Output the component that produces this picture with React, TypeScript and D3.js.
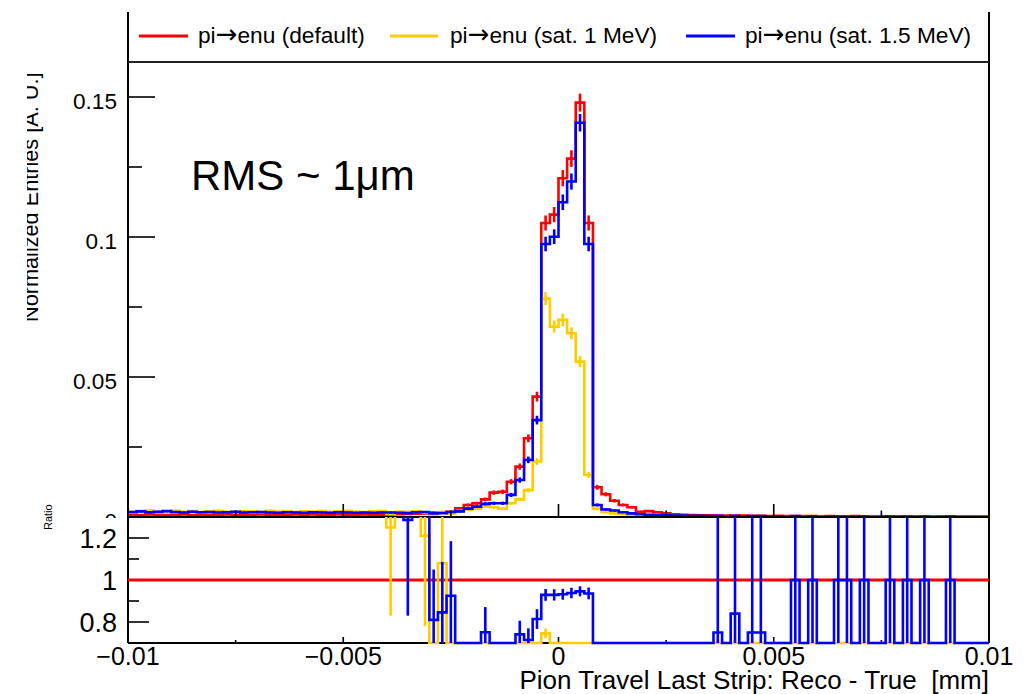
import React from "react";
import * as d3 from "d3";

// ---------------- data ----------------
const X_MIN = -0.01;
const X_MAX = 0.01;
const N_BINS = 100;
const N_ENTRIES = 14450; // effective entries used for the Poisson error bars
const Y_MAX = 0.18;

const seriesPrefix = "pi";
const seriesArrow = "\u2192";
const seriesSuffix = ["enu (default)", "enu (sat. 1 MeV)", "enu (sat. 1.5 MeV)"];
const seriesColors = ["#ff0000", "#ffcc00", "#0000ff"];

const redDefault = [
  0.0008, 0.0007, 0.0009, 0.0008, 0.0007, 0.0008, 0.0009, 0.0007, 0.0008, 0.0008,
  0.0007, 0.0009, 0.0008, 0.0008, 0.0007, 0.0009, 0.0008, 0.0007, 0.0008, 0.0009,
  0.0008, 0.0009, 0.0007, 0.0008, 0.0009, 0.0008, 0.0007, 0.0009, 0.0008, 0.0008,
  0.0009, 0.0010, 0.0011, 0.0012, 0.0013, 0.0016, 0.0017, 0.0019, 0.0031, 0.0043,
  0.0049, 0.0063, 0.0087, 0.0090, 0.0126, 0.0180, 0.0281, 0.0430, 0.1050, 0.1080,
  0.1210, 0.1280, 0.1480, 0.1050, 0.0106, 0.0081, 0.0058, 0.0043, 0.0035, 0.0019,
  0.0021, 0.0017, 0.0013, 0.0010, 0.0008, 0.0007, 0.0006, 0.0006, 0.0005, 0.0005,
  0.0004, 0.0005, 0.0004, 0.0004, 0.0003, 0.0004, 0.0003, 0.0003, 0.0003, 0.0003,
  0.0002, 0.0003, 0.0002, 0.0002, 0.0003, 0.0002, 0.0002, 0.0002, 0.0002, 0.0002,
  0.0002, 0.0002, 0.0002, 0.0001, 0.0002, 0.0002, 0.0001, 0.0001, 0.0001, 0.0001,
];

const yellowSat1 = [
  0.0019, 0.0021, 0.0023, 0.0018, 0.0020, 0.0022, 0.0019, 0.0021, 0.0018, 0.0020,
  0.0022, 0.0019, 0.0018, 0.0021, 0.0020, 0.0018, 0.0022, 0.0019, 0.0021, 0.0018,
  0.0020, 0.0019, 0.0021, 0.0018, 0.0020, 0.0022, 0.0019, 0.0018, 0.0020, 0.0021,
  0.0011, 0.0019, 0.0018, 0.0020, 0.0016, 0.0009, 0.0018, 0.0012, 0.0020, 0.0026,
  0.0030, 0.0038, 0.0035, 0.0030, 0.0049, 0.0063, 0.0096, 0.0198, 0.0780, 0.0680,
  0.0704, 0.0656, 0.0555, 0.0150, 0.0029, 0.0017, 0.0013, 0.0010, 0.0008, 0.0006,
  0.0005, 0.0004, 0.0004, 0.0003, 0.0003, 0.0002, 0.0002, 0.0002, 0.0001, 0.0002,
  0.0001, 0.0001, 0.0001, 0.0001, 0.0001, 0.0001, 0.0001, 0.0000, 0.0001, 0.0000,
  0.0001, 0.0000, 0.0000, 0.0001, 0.0000, 0.0000, 0.0001, 0.0000, 0.0000, 0.0000,
  0.0000, 0.0001, 0.0000, 0.0000, 0.0000, 0.0000, 0.0000, 0.0000, 0.0000, 0.0000,
];

const blueSat15 = [
  0.0018, 0.0020, 0.0017, 0.0019, 0.0021, 0.0018, 0.0016, 0.0019, 0.0017, 0.0018,
  0.0016, 0.0017, 0.0019, 0.0016, 0.0017, 0.0018, 0.0016, 0.0015, 0.0017, 0.0016,
  0.0015, 0.0017, 0.0016, 0.0015, 0.0017, 0.0016, 0.0015, 0.0016, 0.0015, 0.0016,
  0.0016, 0.0015, 0.0014, 0.0017, 0.0018, 0.0013, 0.0014, 0.0018, 0.0020, 0.0030,
  0.0037, 0.0047, 0.0049, 0.0049, 0.0079, 0.0132, 0.0204, 0.0346, 0.0975, 0.1001,
  0.1124, 0.1198, 0.1408, 0.0975, 0.0043, 0.0027, 0.0023, 0.0017, 0.0013, 0.0010,
  0.0008, 0.0007, 0.0006, 0.0005, 0.0005, 0.0004, 0.0004, 0.0003, 0.0004, 0.0002,
  0.0004, 0.0002, 0.0003, 0.0003, 0.0002, 0.0002, 0.0001, 0.0003, 0.0001, 0.0002,
  0.0001, 0.0001, 0.0002, 0.0002, 0.0001, 0.0002, 0.0001, 0.0001, 0.0002, 0.0001,
  0.0002, 0.0001, 0.0002, 0.0001, 0.0001, 0.0002, 0.0001, 0.0001, 0.0001, 0.0001,
];

const ratioYellow = [
  1.6, 1.6, 1.6, 1.6, 1.6, 1.6, 1.6, 1.6, 1.6, 1.6,
  1.6, 1.6, 1.6, 1.6, 1.6, 1.6, 1.6, 1.6, 1.6, 1.6,
  1.6, 1.6, 1.6, 1.6, 1.6, 1.6, 1.6, 1.6, 1.6, 1.6,
  1.25, 1.6, 1.6, 1.6, 1.21, 0, 1.08, 0, 0, 0,
  0, 0, 0, 0, 0, 0, 0, 0, 0.746, 0,
  0, 0, 0, 0, 0, 0, 0, 0, 0, 0,
  0, 0, 0, 0, 0, 0, 0, 0, 0, 0,
  0, 0, 0, 0, 0, 0, 0, 0, 0, 0,
  0, 0, 0, 0, 0, 0, 0, 0, 0, 0,
  0, 0, 0, 0, 0, 0, 0, 0, 0, 0,
];
const ratioYellowErr = [
  0.2, 0.2, 0.2, 0.2, 0.2, 0.2, 0.2, 0.2, 0.2, 0.2,
  0.2, 0.2, 0.2, 0.2, 0.2, 0.2, 0.2, 0.2, 0.2, 0.2,
  0.2, 0.2, 0.2, 0.2, 0.2, 0.2, 0.2, 0.2, 0.2, 0.2,
  0.42, 0.25, 0.25, 0.25, 0.43, 0, 1.2, 0, 0, 0,
  0, 0, 0, 0, 0, 0, 0, 0, 0.023, 0,
  0, 0, 0, 0, 0, 0, 0, 0, 0, 0,
  0, 0, 0, 0, 0, 0, 0, 0, 0, 0,
  0, 0, 0, 0, 0, 0, 0, 0, 0, 0,
  0, 0, 0, 0, 0, 0, 0, 0, 0, 0,
  0, 0, 0, 0, 0, 0, 0, 0, 0, 0,
];
const ratioBlue = [
  1.6, 1.6, 1.6, 1.6, 1.6, 1.6, 1.6, 1.6, 1.6, 1.6,
  1.6, 1.6, 1.6, 1.6, 1.6, 1.6, 1.6, 1.6, 1.6, 1.6,
  1.6, 1.6, 1.6, 1.6, 1.6, 1.6, 1.6, 1.6, 1.6, 1.6,
  1.6, 1.6, 1.286, 1.6, 1.6, 0.81, 0.846, 0.925, 0, 0,
  0, 0.751, 0, 0, 0, 0.741, 0.714, 0.814, 0.929, 0.929,
  0.932, 0.938, 0.946, 0.936, 0, 0, 0, 0, 0, 0,
  0, 0, 0, 0, 0, 0, 0, 0, 0.75, 0,
  0.84, 0, 0.75, 0.75, 0, 0, 0, 1, 0, 1,
  0, 0, 1, 1, 0, 1, 0, 0, 1, 0,
  1, 0, 1, 0, 0, 1, 0, 0, 0, 0,
];
const ratioBlueErr = [
  0.2, 0.2, 0.2, 0.2, 0.2, 0.2, 0.2, 0.2, 0.2, 0.2,
  0.2, 0.2, 0.2, 0.2, 0.2, 0.2, 0.2, 0.2, 0.2, 0.2,
  0.2, 0.2, 0.2, 0.2, 0.2, 0.2, 0.2, 0.2, 0.2, 0.2,
  0.2, 0.25, 0.456, 0.25, 0.25, 0.24, 0.24, 0.26, 0, 0,
  0, 0.12, 0, 0, 0, 0.065, 0.056, 0.047, 0.028, 0.027,
  0.026, 0.025, 0.024, 0.028, 0, 0, 0, 0, 0, 0,
  0, 0, 0, 0, 0, 0, 0, 0, 0.9, 0,
  0.9, 0, 0.9, 0.9, 0, 0, 0, 1.41, 0, 1.41,
  0, 0, 1.41, 1.41, 0, 1.41, 0, 0, 1.41, 0,
  1.41, 0, 1.41, 0, 0, 1.41, 0, 0, 0, 0,
];

const mainYTicks = [0, 0.05, 0.1, 0.15];
const mainYTickLabels = ["0", "0.05", "0.1", "0.15"];
const mainYMinor = [0.025, 0.075, 0.125];
const xTicks = [-0.01, -0.005, 0, 0.005, 0.01];
const xTickLabels = ["\u22120.01", "\u22120.005", "0", "0.005", "0.01"];
const xMinor = [-0.0075, -0.0025, 0.0025, 0.0075];
const ratioTicks = [0.8, 1, 1.2];
const ratioTickLabels = ["0.8", "1", "1.2"];
const ratioMinor = [0.9, 1.1];
const RATIO_MIN = 0.7;
const RATIO_MAX = 1.3;

const xTitle = "Pion Travel Last Strip: Reco - True  [mm]";
const yTitle = "Normalized Entries [A. U.]";
const ratioTitle = "Ratio";
const annotation = "RMS ~ 1\u03bcm";

// ---------------- layout ----------------
const W = 1036;
const H = 694;
const L = 128;
const R = 989;
const TOP = 12;
const LEG_BOTTOM = 62;
const MAIN_BOTTOM = 517;
const RATIO_BOTTOM = 643;
const FONT = "'Liberation Sans', Arial, Helvetica, sans-serif";
const LW = 2.6;

const legendItems = [
  { x0: 139, x1: 188, tx: 198 },
  { x0: 390, x1: 438, tx: 450 },
  { x0: 686, x1: 735, tx: 745 },
];

const BIN_W = (X_MAX - X_MIN) / N_BINS;

function stepPath(vals: number[], x: (v: number) => number, yf: (v: number) => number) {
  const pts: [number, number][] = vals.map((v, i) => [x(X_MIN + i * BIN_W), yf(v)]);
  pts.push([x(X_MAX), yf(vals[vals.length - 1])]);
  return d3.line().curve(d3.curveStepAfter)(pts) || "";
}

export default function App() {
  const x = d3.scaleLinear().domain([X_MIN, X_MAX]).range([L, R]);
  const y = d3.scaleLinear().domain([0, Y_MAX]).range([MAIN_BOTTOM, MAIN_BOTTOM - Y_MAX * 2800]);
  const yr = d3.scaleLinear().domain([RATIO_MIN, RATIO_MAX]).range([RATIO_BOTTOM, MAIN_BOTTOM]);
  const yrc = (v: number) => yr(Math.max(RATIO_MIN, Math.min(RATIO_MAX + 0.02, v)));

  const mainSeries = [redDefault, yellowSat1, blueSat15];
  const ratioSeries = [
    { vals: ratioYellow, errs: ratioYellowErr, color: seriesColors[1] },
    { vals: ratioBlue, errs: ratioBlueErr, color: seriesColors[2] },
  ];
  const center = (i: number) => x(X_MIN + (i + 0.5) * BIN_W);

  return (
    <svg
      width={W}
      height={H}
      viewBox={`0 0 ${W} ${H}`}
      style={{ position: "absolute", left: 0, top: 0, background: "#fff" }}
      fontFamily={FONT}
    >
      <defs>
        <clipPath id="ytitleClip">
          <rect x={27} y={0} width={100} height={MAIN_BOTTOM} />
        </clipPath>
        <clipPath id="mainClip">
          <rect x={L} y={LEG_BOTTOM} width={R - L} height={MAIN_BOTTOM - LEG_BOTTOM} />
        </clipPath>
        <clipPath id="ratioClip">
          <rect x={L} y={MAIN_BOTTOM} width={R - L} height={RATIO_BOTTOM - MAIN_BOTTOM + 2} />
        </clipPath>
      </defs>
      <rect x={0} y={0} width={W} height={H} fill="#fff" />

      {/* y title (clipped like the reference) */}
      <g clipPath="url(#ytitleClip)">
        <text transform={`translate(38,322) rotate(-90)`} fontSize={21.7} fill="#000">
          {yTitle}
        </text>
      </g>

      {/* main y ticks + labels */}
      {mainYTicks.map((t, i) => (
        <g key={"myt" + i}>
          <line x1={L} x2={L + 27} y1={y(t)} y2={y(t)} stroke="#000" strokeWidth={1.6} />
          <text x={117} y={y(t) + 11.5} textAnchor="end" fontSize={22.6} fill="#000">
            {mainYTickLabels[i]}
          </text>
        </g>
      ))}
      {mainYMinor.map((t, i) => (
        <line key={"mym" + i} x1={L} x2={L + 14} y1={y(t)} y2={y(t)} stroke="#000" strokeWidth={1.6} />
      ))}

      {/* main histograms */}
      <g clipPath="url(#mainClip)" fill="none" strokeWidth={LW}>
        {mainSeries.map((vals, s) => (
          <g key={"ms" + s} stroke={seriesColors[s]}>
            <path d={stepPath(vals, x, y)} strokeLinejoin="miter" />
            {vals.map((v, i) => {
              const e = Math.sqrt(v / N_ENTRIES);
              if (v <= 0) return null;
              return <line key={i} x1={center(i)} x2={center(i)} y1={y(v - e)} y2={y(v + e)} />;
            })}
          </g>
        ))}
      </g>

      {/* main x ticks */}
      {xTicks.map((t, i) => (
        <line key={"mxt" + i} x1={x(t)} x2={x(t)} y1={MAIN_BOTTOM} y2={MAIN_BOTTOM - 13} stroke="#000" strokeWidth={1.6} />
      ))}
      {xMinor.map((t, i) => (
        <line key={"mxm" + i} x1={x(t)} x2={x(t)} y1={MAIN_BOTTOM} y2={MAIN_BOTTOM - 6.5} stroke="#000" strokeWidth={1.6} />
      ))}

      {/* main frame */}
      <line x1={L} x2={L} y1={TOP} y2={MAIN_BOTTOM} stroke="#000" strokeWidth={2} />
      <line x1={R} x2={R} y1={TOP} y2={MAIN_BOTTOM} stroke="#000" strokeWidth={2} />
      <line x1={L} x2={R} y1={LEG_BOTTOM} y2={LEG_BOTTOM} stroke="#222" strokeWidth={2} />

      {/* legend */}
      {legendItems.map((it, i) => (
        <g key={"leg" + i}>
          <line x1={it.x0} x2={it.x1} y1={36} y2={36} stroke={seriesColors[i]} strokeWidth={3} />
          <text x={it.tx} y={43} fontSize={22.7} fill="#000">
            {seriesPrefix}
            <tspan fontFamily="'DejaVu Sans', sans-serif" fontSize={26}>
              {seriesArrow}
            </tspan>
            {seriesSuffix[i]}
          </text>
        </g>
      ))}

      {/* annotation */}
      <text x={191} y={190} fontSize={42} fill="#000">
        {annotation}
      </text>

      {/* ratio pad background */}
      <rect x={0} y={MAIN_BOTTOM + 1} width={W} height={H - MAIN_BOTTOM - 1} fill="#fff" />

      {/* ratio frame */}
      <line x1={L} x2={R} y1={MAIN_BOTTOM} y2={MAIN_BOTTOM} stroke="#000" strokeWidth={2} />
      <line x1={L} x2={L} y1={MAIN_BOTTOM} y2={RATIO_BOTTOM} stroke="#000" strokeWidth={2} />
      <line x1={R} x2={R} y1={MAIN_BOTTOM} y2={RATIO_BOTTOM} stroke="#000" strokeWidth={2} />
      <line x1={L} x2={R} y1={RATIO_BOTTOM} y2={RATIO_BOTTOM} stroke="#000" strokeWidth={2} />

      {/* ratio y ticks */}
      {ratioTicks.map((t, i) => (
        <g key={"ryt" + i}>
          <line x1={L} x2={L + 21} y1={yr(t)} y2={yr(t)} stroke="#000" strokeWidth={1.6} />
          <text x={117} y={yr(t) + 10} textAnchor="end" fontSize={27} fill="#000">
            {ratioTickLabels[i]}
          </text>
        </g>
      ))}
      {ratioMinor.map((t, i) => (
        <line key={"rym" + i} x1={L} x2={L + 11} y1={yr(t)} y2={yr(t)} stroke="#000" strokeWidth={1.6} />
      ))}
      {/* ratio x ticks */}
      {xTicks.map((t, i) => (
        <line key={"rxt" + i} x1={x(t)} x2={x(t)} y1={RATIO_BOTTOM} y2={RATIO_BOTTOM - 6} stroke="#000" strokeWidth={1.6} />
      ))}
      {xMinor.map((t, i) => (
        <line key={"rxm" + i} x1={x(t)} x2={x(t)} y1={RATIO_BOTTOM} y2={RATIO_BOTTOM - 3} stroke="#000" strokeWidth={1.6} />
      ))}

      {/* ratio content */}
      <g clipPath="url(#ratioClip)" fill="none" strokeWidth={LW}>
        <line x1={L} x2={R} y1={yr(1)} y2={yr(1)} stroke={seriesColors[0]} strokeWidth={3} />
        {ratioSeries.map((rs, s) => (
          <g key={"rs" + s} stroke={rs.color}>
            <path d={stepPath(rs.vals, x, yrc)} />
            {rs.vals.map((v, i) => {
              const e = rs.errs[i];
              if (e <= 0) return null;
              return <line key={i} x1={center(i)} x2={center(i)} y1={yrc(v - e)} y2={yrc(v + e)} />;
            })}
          </g>
        ))}
      </g>

      {/* ratio title */}
      <text transform={`translate(52,${530}) rotate(-90)`} fontSize={11} fill="#000">
        {ratioTitle}
      </text>

      {/* x labels */}
      {xTicks.map((t, i) => (
        <text key={"xl" + i} x={x(t)} y={665} textAnchor="middle" fontSize={25} fill="#000">
          {xTickLabels[i]}
        </text>
      ))}
      <text x={R} y={689} textAnchor="end" fontSize={26} fill="#000" style={{ whiteSpace: "pre" }}>
        {xTitle}
      </text>
    </svg>
  );
}
